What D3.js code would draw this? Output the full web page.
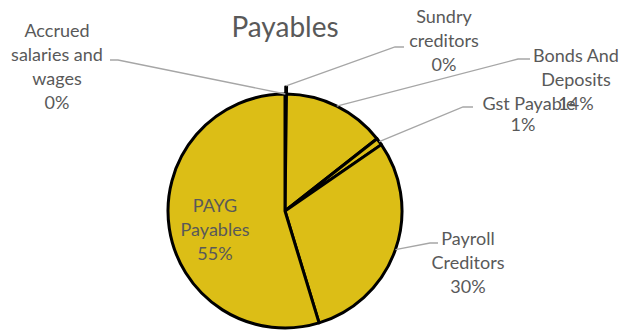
<!DOCTYPE html>
<html><head><meta charset="utf-8">
<script src="https://cdn.jsdelivr.net/npm/d3@7/dist/d3.min.js"></script>
<style>html,body{margin:0;padding:0;background:#fff;overflow:hidden}</style>
</head><body>
<svg id="chart" width="619" height="331"></svg>
<script>
// ---- data (clockwise from 12 o'clock) ----
const categories = ["Accrued salaries and wages", "Sundry creditors", "Bonds And Deposits", "Gst Payable", "Payroll Creditors", "PAYG Payables"];
const values = [0.1, 0.1, 14.2, 1.0, 29.9, 54.7];
const title = "Payables";
// label text lines (category wrapped as in the picture)
const labelLines = [["Accrued", "salaries and", "wages"], ["Sundry", "creditors"], ["Bonds And", "Deposits"], ["Gst Payable"], ["Payroll", "Creditors"], ["PAYG", "Payables"]];

// ---- layout ----
const W = 619, H = 331;
const cx = 285, cy = 211, R = 117;
const fill = "#DCBE16";
const textColor = "#595959";
const font = "Lato, 'Open Sans', sans-serif";
const labelSize = 18, lineH = 24;
// label layout: centre x, first baseline, elbow and end points of leader, which percent line override
const labelLayout = [
  {x: 57, y: 37, elbow: [118, 60], end: [110, 60], leaderR: 1.0},
  {x: 444, y: 23, elbow: [395, 47], end: [404, 47], leaderR: 1.07},
  {x: 576, y: 62, elbow: [518, 59], end: [530, 59], leaderR: 1.0},
  {x: 529, y: 110, elbow: [463, 107], end: [473, 107], leaderR: 1.0, pctX: 523},
  {x: 468, y: 245, elbow: [430, 243], end: [438, 243], leaderR: 1.0},
  {x: 215, y: 212, inside: true}
];
// Bonds percent drawn on the line of Deposits +1 (overlapping Gst label, as in the picture)

const svg = d3.select("#chart");
const total = d3.sum(values);
const pie = d3.pie().sort(null).value(d => d)(values);
const arc = d3.arc().innerRadius(0).outerRadius(R);

// title
svg.append("text").attr("x", cx).attr("y", 37).attr("text-anchor", "middle")
  .attr("font-family", font).attr("font-size", 28).attr("fill", textColor).text(title);

// slices
const g = svg.append("g").attr("transform", `translate(${cx},${cy})`);
g.selectAll("path.slice").data(pie).join("path").attr("class", "slice")
  .attr("d", arc).attr("fill", fill).attr("stroke", "#000").attr("stroke-width", 3)
  .attr("stroke-linejoin", "round");

// stick of the zero slices protruding past the rim
pie.forEach((d, i) => {
  if (values[i] / total < 0.005) {
    const a = d.endAngle;
    g.append("line")
      .attr("x1", Math.sin(a) * (R - 2)).attr("y1", -Math.cos(a) * (R - 2))
      .attr("x2", Math.sin(a) * (R * 1.07)).attr("y2", -Math.cos(a) * (R * 1.07))
      .attr("stroke", "#000").attr("stroke-width", 3);
  }
});

// leaders + labels
pie.forEach((d, i) => {
  const L = labelLayout[i];
  const pct = Math.round(values[i] / total * 100) + "%";
  if (!L.inside) {
    const m = (d.startAngle + d.endAngle) / 2;
    const r = R * L.leaderR;
    const p0 = [cx + Math.sin(m) * r, cy - Math.cos(m) * r];
    svg.append("polyline")
      .attr("points", [p0, L.elbow, L.end].map(p => p.join(",")).join(" "))
      .attr("fill", "none").attr("stroke", "#a6a6a6").attr("stroke-width", 1.3);
  }
  const lines = labelLines[i];
  const t = svg.append("text").attr("font-family", font).attr("font-size", labelSize)
    .attr("fill", textColor).attr("text-anchor", "middle");
  lines.forEach((ln, k) => {
    t.append("tspan").attr("x", L.x).attr("y", L.y + k * lineH).text(ln);
  });
  let py = L.y + lines.length * lineH;
  let px = L.pctX !== undefined ? L.pctX : L.x;
  if (i === 2) py = L.y + 2 * lineH - 0; // 14% sits under "Deposits"
  t.append("tspan").attr("x", px).attr("y", i === 3 ? L.y + 21 : py).text(pct);
});
</script>
</body></html>
